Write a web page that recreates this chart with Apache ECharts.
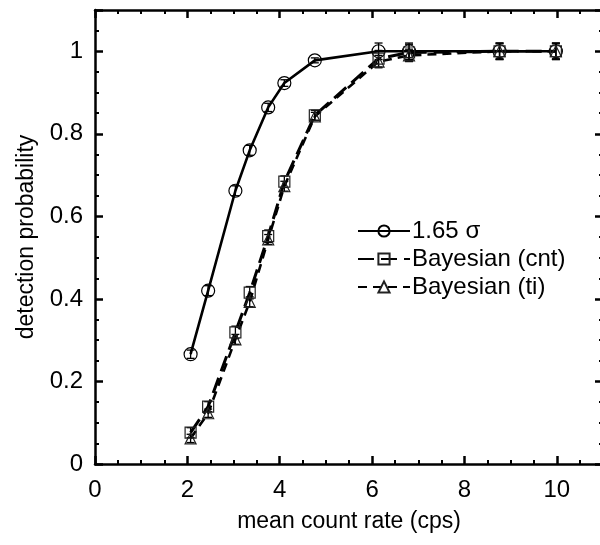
<!DOCTYPE html>
<html>
<head>
<meta charset="utf-8">
<script src="https://cdn.jsdelivr.net/npm/echarts@6/dist/echarts.min.js"></script>
<style>html,body{margin:0;padding:0;background:#fff}#c{width:600px;height:545px}</style>
</head>
<body>
<div id="c"></div>
<script>
const rates = [2.07, 2.45, 3.04, 3.35, 3.75, 4.10, 4.76, 6.14, 6.80, 8.76, 9.98];
const sigmaProb = [0.266, 0.420, 0.662, 0.760, 0.864, 0.923, 0.978, 1.000, 1.000, 1.000, 1.000];
const sigmaErr  = [0.010, 0.012, 0.012, 0.012, 0.010, 0.008, 0.006, 0.020, 0.020, 0.020, 0.020];
const cntProb   = [0.076, 0.139, 0.319, 0.415, 0.552, 0.684, 0.845, 0.982, 0.997, 1.000, 1.000];
const cntErr    = [0.012, 0.012, 0.015, 0.015, 0.015, 0.014, 0.012, 0.020, 0.020, 0.020, 0.020];
const tiProb    = [0.062, 0.123, 0.302, 0.393, 0.544, 0.673, 0.842, 0.975, 0.990, 1.000, 1.000];
const tiErr     = [0.010, 0.010, 0.012, 0.012, 0.012, 0.012, 0.010, 0.015, 0.015, 0.018, 0.018];
const seriesNames = ['1.65 σ', 'Bayesian (cnt)', 'Bayesian (ti)'];
const xTicks = [0, 2, 4, 6, 8, 10];
const yTicks = [0, 0.2, 0.4, 0.6, 0.8, 1];

const FONT = 'Liberation Sans, Arial, sans-serif';
const FS = 24;
const chart = echarts.init(document.getElementById('c'), null, {renderer: 'canvas'});

function pts(ys) { return rates.map((x, i) => [x, ys[i]]); }
function errData(ys, es) { return rates.map((x, i) => [x, ys[i] - es[i], ys[i] + es[i]]); }
function errSeries(ys, es) {
  return {
    type: 'custom', xAxisIndex: 0, yAxisIndex: 0, z: 4, silent: true,
    data: errData(ys, es),
    renderItem: function (params, api) {
      const lo = api.coord([api.value(0), api.value(1)]);
      const hi = api.coord([api.value(0), api.value(2)]);
      const w = 4;
      const st = {stroke: '#000', lineWidth: 1.3};
      return {type: 'group', children: [
        {type: 'line', shape: {x1: lo[0], y1: lo[1], x2: hi[0], y2: hi[1]}, style: st},
        {type: 'line', shape: {x1: lo[0]-w, y1: lo[1], x2: lo[0]+w, y2: lo[1]}, style: st},
        {type: 'line', shape: {x1: hi[0]-w, y1: hi[1], x2: hi[0]+w, y2: hi[1]}, style: st}
      ]};
    }
  };
}

const axisCommon = {
  min: 0,
  axisLine: {show: true, onZero: false, lineStyle: {color: '#000', width: 2.5}},
  axisTick: {show: true, inside: true, length: 8, lineStyle: {color: '#000', width: 2.5}},
  minorTick: {show: true, splitNumber: 4, length: 4, lineStyle: {color: '#000', width: 2}},
  splitLine: {show: false},
  nameTextStyle: {color: '#000', fontFamily: FONT, fontSize: 23}
};

const option = {
  animation: false,
  backgroundColor: '#fff',
  grid: {left: 95, top: 10, width: 508, height: 454, containLabel: false, outerBoundsMode: 'none'},
  legend: {
    orient: 'vertical', left: 352, top: 214, itemGap: 4,
    itemWidth: 52, itemHeight: 14,
    data: seriesNames,
    textStyle: {color: '#000', fontFamily: FONT, fontSize: FS, padding: [0, 0, 0, -3]}
  },
  xAxis: [
    Object.assign({}, axisCommon, {
      type: 'value', position: 'bottom', max: 11, interval: 2,
      name: 'mean count rate (cps)', nameLocation: 'middle', nameGap: 46,
      axisLabel: {show: true, color: '#000', fontFamily: FONT, fontSize: FS, margin: 14,
        formatter: v => xTicks.includes(v) ? String(v) : ''}
    }),
    Object.assign({}, axisCommon, {
      type: 'value', position: 'top', max: 11, interval: 2, axisLabel: {show: false}
    })
  ],
  yAxis: [
    Object.assign({}, axisCommon, {
      type: 'value', position: 'left', max: 1.1, interval: 0.2,
      name: 'detection probability', nameLocation: 'middle', nameGap: 57, nameRotate: 90,
      axisLabel: {show: true, color: '#000', fontFamily: FONT, fontSize: FS, margin: 12,
        formatter: v => { const r = Math.round(v * 10) / 10; return yTicks.includes(r) && v <= 1.0001 ? String(r) : ''; }}
    }),
    Object.assign({}, axisCommon, {
      type: 'value', position: 'right', max: 1.1, interval: 0.2, axisLabel: {show: false}
    })
  ],
  series: [
    {
      name: seriesNames[0], type: 'line', data: pts(sigmaProb), z: 5,
      symbol: 'circle', symbolSize: 13,
      itemStyle: {color: 'rgba(255,255,255,0)', borderColor: '#000', borderWidth: 1.2},
      lineStyle: {color: '#000', width: 2.6}
    },
    {
      name: seriesNames[1], type: 'line', data: pts(cntProb), z: 5,
      symbol: 'rect', symbolSize: 11,
      itemStyle: {color: 'rgba(255,255,255,0)', borderColor: '#222', borderWidth: 1.2},
      lineStyle: {color: '#000', width: 3, type: [16, 7]}
    },
    {
      name: seriesNames[2], type: 'line', data: pts(tiProb), z: 5,
      symbol: 'triangle', symbolSize: 11,
      itemStyle: {color: 'rgba(255,255,255,0)', borderColor: '#222', borderWidth: 1.2},
      lineStyle: {color: '#000', width: 2.6, type: [9, 6]}
    },
    errSeries(sigmaProb, sigmaErr),
    errSeries(cntProb, cntErr),
    errSeries(tiProb, tiErr)
  ]
};
chart.setOption(option);
</script>
</body>
</html>
